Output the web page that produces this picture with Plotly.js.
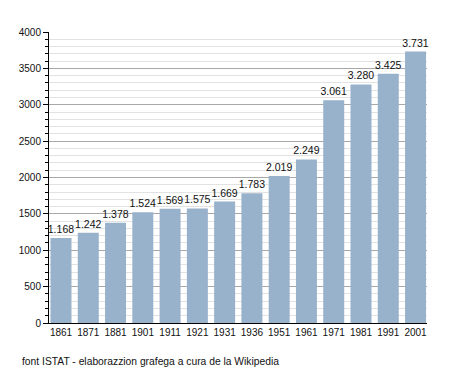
<!DOCTYPE html>
<html>
<head>
<meta charset="utf-8">
<script src="https://cdn.plot.ly/plotly-3.0.1.min.js"></script>
<style>html,body{margin:0;padding:0;background:#fff}#chart{width:455px;height:373px}</style>
</head>
<body>
<div id="chart"></div>
<script>
const years = ["1861","1871","1881","1901","1911","1921","1931","1936","1951","1961","1971","1981","1991","2001"];
const population = [1168,1242,1378,1524,1569,1575,1669,1783,2019,2249,3061,3280,3425,3731];
const yTicks = [0,500,1000,1500,2000,2500,3000,3500,4000];
const footer = "font ISTAT - elaborazzion grafega a cura de la Wikipedia";

const trace = {
  type: 'bar',
  x: years,
  y: population,
  marker: {color: '#99b2cb', line: {width: 0}},
  texttemplate: '%{y:,}',
  textposition: 'outside',
  constraintext: 'none',
  textfont: {family: 'Liberation Sans, Arial, sans-serif', size: 10.5, color: '#111'},
  cliponaxis: false,
  hoverinfo: 'none'
};

const layout = {
  width: 455, height: 373,
  margin: {l: 49, r: 28, t: 32, b: 50},
  paper_bgcolor: '#fff', plot_bgcolor: '#fff',
  separators: ',.',
  bargap: 0.23,
  showlegend: false,
  font: {family: 'Liberation Sans, Arial, sans-serif', size: 10, color: '#111'},
  xaxis: {
    type: 'category',
    range: [-0.44, 13.42],
    showline: true, linecolor: '#000', linewidth: 1,
    ticks: '', showgrid: false, zeroline: false,
    tickfont: {size: 10, color: '#111'}
  },
  yaxis: {
    range: [0, 4000],
    tickvals: yTicks,
    tickformat: 'd',
    showline: true, linecolor: '#000', linewidth: 1,
    ticks: 'outside', ticklen: 5, tickcolor: '#000',
    showgrid: true, gridcolor: '#a8a8a8', gridwidth: 1,
    zeroline: false,
    tickfont: {size: 10, color: '#111'},
    minor: {dtick: 100, showgrid: true, gridcolor: '#e2e2e2', ticks: 'outside', ticklen: 3, tickcolor: '#000'}
  },
  annotations: [{
    text: footer,
    xref: 'paper', yref: 'paper',
    x: (20 - 49) / 378, y: (323 - 361) / 291,
    xanchor: 'left', yanchor: 'middle',
    showarrow: false,
    font: {size: 10.3, color: '#111'}
  }]
};

Plotly.newPlot('chart', [trace], layout, {staticPlot: true, displayModeBar: false});
</script>
</body>
</html>
